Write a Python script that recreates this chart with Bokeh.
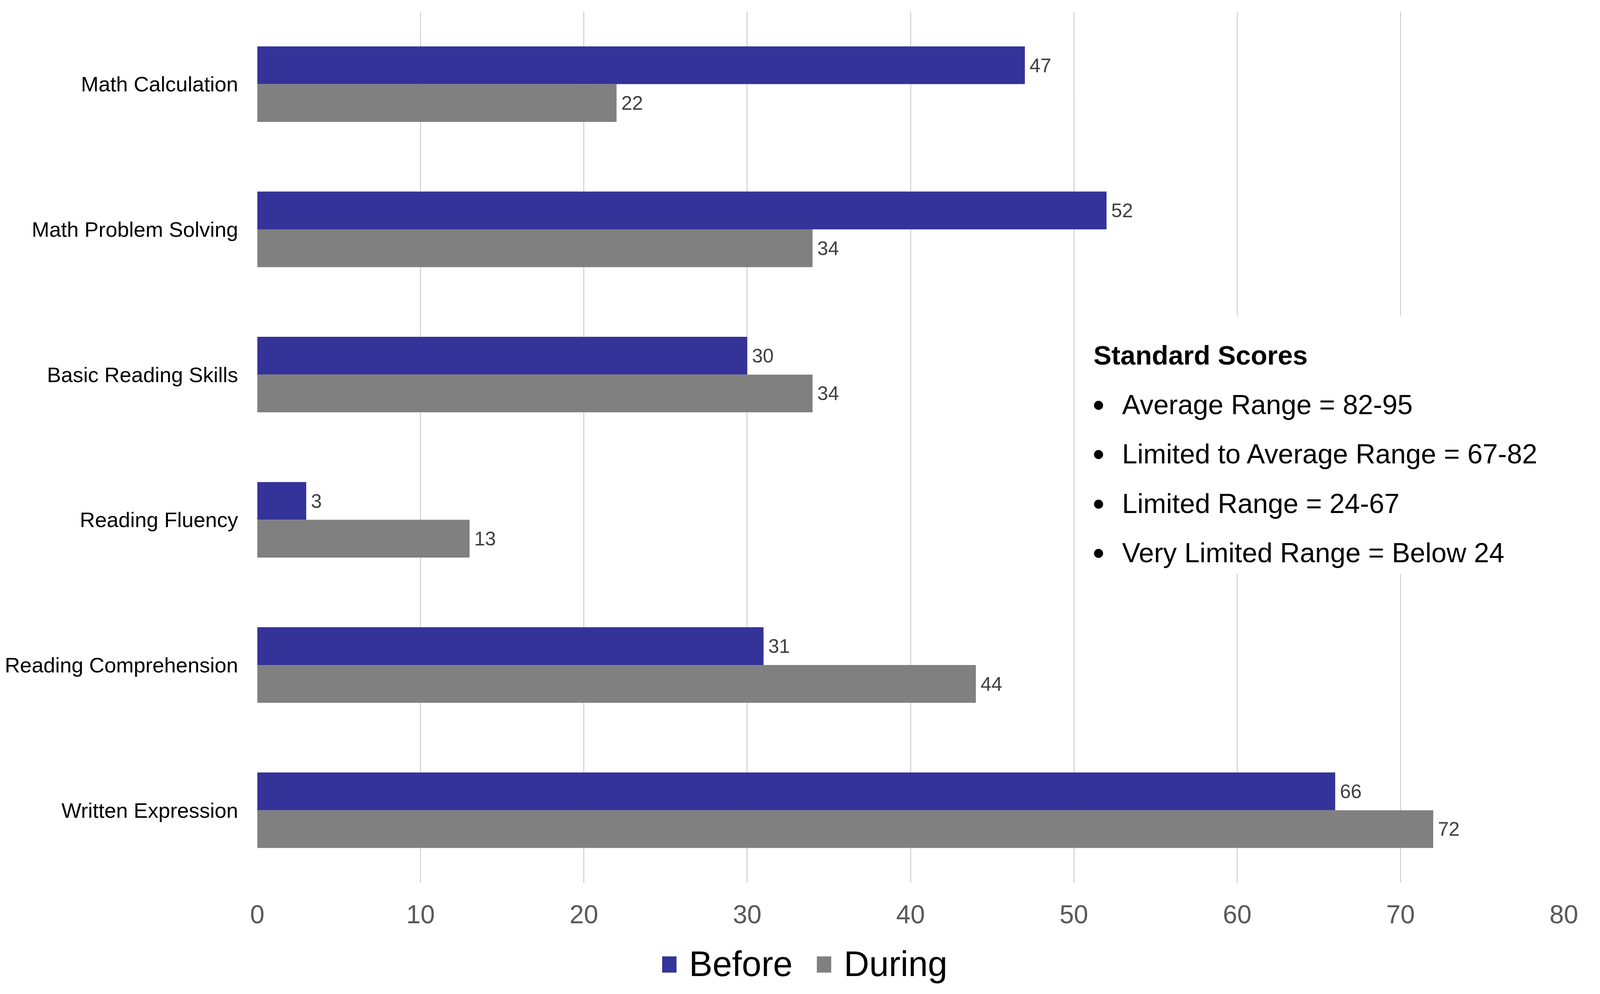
import numpy as np
from bokeh.plotting import figure
from bokeh.layouts import column
from bokeh.models import (Range1d, FixedTicker, Legend, LegendItem, ColumnDataSource)
from bokeh.core.properties import value
from bokeh.embed import file_html
from bokeh.resources import INLINE

# ---- data ----
categories = ["Math Calculation", "Math Problem Solving", "Basic Reading Skills",
              "Reading Fluency", "Reading Comprehension", "Written Expression"]
before = [47, 52, 30, 3, 31, 66]
during = [22, 34, 34, 13, 44, 72]
x_ticks = [0, 10, 20, 30, 40, 50, 60, 70, 80]
series_names = ["Before", "During"]
box_title = "Standard Scores"
box_lines = ["Average Range = 82-95",
             "Limited to Average Range = 67-82",
             "Limited Range = 24-67",
             "Very Limited Range = Below 24"]

BLUE = "#343399"
GRAY = "#808080"
FONT = "Liberation Sans"
W = 4080

n = len(categories)
pos = np.array([n - 0.5 - i for i in range(n)])
bh = 0.26

p = figure(width=W, height=2400, x_range=Range1d(0, 80), y_range=Range1d(0, n),
           output_backend="svg", toolbar_location=None,
           min_border_left=658, min_border_right=77, min_border_top=29,
           min_border_bottom=141)
p.outline_line_color = None
p.background_fill_color = "white"
p.border_fill_color = "white"

src = ColumnDataSource(dict(y1=pos + bh / 2, y2=pos - bh / 2, before=before, during=during,
                            bl=[str(v) for v in before], dl=[str(v) for v in during]))

p.hbar(y="y1", right="before", left=0, height=bh, source=src, fill_color=BLUE, line_color=None)
p.hbar(y="y2", right="during", left=0, height=bh, source=src, fill_color=GRAY, line_color=None)

p.text(x="before", y="y1", text="bl", source=src, x_offset=12, text_baseline="middle",
       text_align="left", text_font=value(FONT), text_font_size="50px", text_color="#404040")
p.text(x="during", y="y2", text="dl", source=src, x_offset=12, text_baseline="middle",
       text_align="left", text_font=value(FONT), text_font_size="50px", text_color="#404040")

# white text box covering gridlines
p.quad(left=[50.4], right=[79.0], bottom=[2.126], top=[3.906], fill_color="white", line_color=None)
p.text(x=[51.2], y=[3.632], text=[box_title], text_font=value(FONT), text_font_style="bold",
       text_font_size="69px", text_color="black", text_baseline="alphabetic")
ys = [3.292, 2.952, 2.612, 2.272]
p.text(x=[51.15] * 4, y=ys, text=["\u2022"] * 4, text_font=value(FONT),
       text_font_size="86px", text_color="black", text_baseline="alphabetic")
p.text(x=[52.95] * 4, y=ys, text=box_lines, text_font=value(FONT),
       text_font_size="70px", text_color="black", text_baseline="alphabetic")

# axes
p.xaxis.ticker = FixedTicker(ticks=x_ticks)
p.xaxis.axis_line_color = None
p.xaxis.major_tick_line_color = None
p.xaxis.minor_tick_line_color = None
p.xaxis.major_tick_out = 0
p.xaxis.major_tick_in = 0
p.xaxis.major_label_standoff = 57
p.xaxis.major_label_text_font = FONT
p.xaxis.major_label_text_font_size = "66px"
p.xaxis.major_label_text_color = "#595959"

p.yaxis.ticker = FixedTicker(ticks=list(pos))
p.yaxis.major_label_overrides = {float(v): c for v, c in zip(pos, categories)}
p.yaxis.axis_line_color = None
p.yaxis.major_tick_line_color = None
p.yaxis.minor_tick_line_color = None
p.yaxis.major_tick_out = 0
p.yaxis.major_tick_in = 0
p.yaxis.major_label_standoff = 49
p.yaxis.major_label_text_font = FONT
p.yaxis.major_label_text_font_size = "54px"
p.yaxis.major_label_text_color = "black"

p.xgrid.ticker = FixedTicker(ticks=x_ticks)
p.xgrid.grid_line_color = "#c4c4c4"
p.xgrid.grid_line_width = 2
p.ygrid.grid_line_color = None

# legend strip below the chart (proxy renderers sit outside the visible range)
lf = figure(width=W, height=128, x_range=Range1d(0, 1), y_range=Range1d(0, 1),
            output_backend="svg", toolbar_location=None,
            x_axis_location=None, y_axis_location=None,
            min_border_left=1690, min_border_right=0, min_border_top=16, min_border_bottom=0)
lf.outline_line_color = None
lf.xgrid.grid_line_color = None
lf.ygrid.grid_line_color = None
lf.background_fill_color = "white"
lf.border_fill_color = "white"
l1 = lf.hbar(y=[-10], right=[0], left=0, height=0.5, fill_color=BLUE, line_color=None)
l2 = lf.hbar(y=[-10], right=[0], left=0, height=0.5, fill_color=GRAY, line_color=None)
legend = Legend(items=[LegendItem(label=series_names[0], renderers=[l1]),
                       LegendItem(label=series_names[1], renderers=[l2])],
                location="top_left", orientation="horizontal",
                glyph_width=46, glyph_height=52, label_standoff=28, spacing=57,
                padding=0, margin=0, border_line_color=None, background_fill_alpha=0,
                label_text_font=FONT, label_text_font_size="90px", label_text_color="black")
lf.add_layout(legend)

for f in (p, lf):
    if "frame_align" in f.properties():
        f.frame_align = False

layout = column(p, lf, spacing=0)
open("out.html", "w").write(file_html(layout, INLINE))
